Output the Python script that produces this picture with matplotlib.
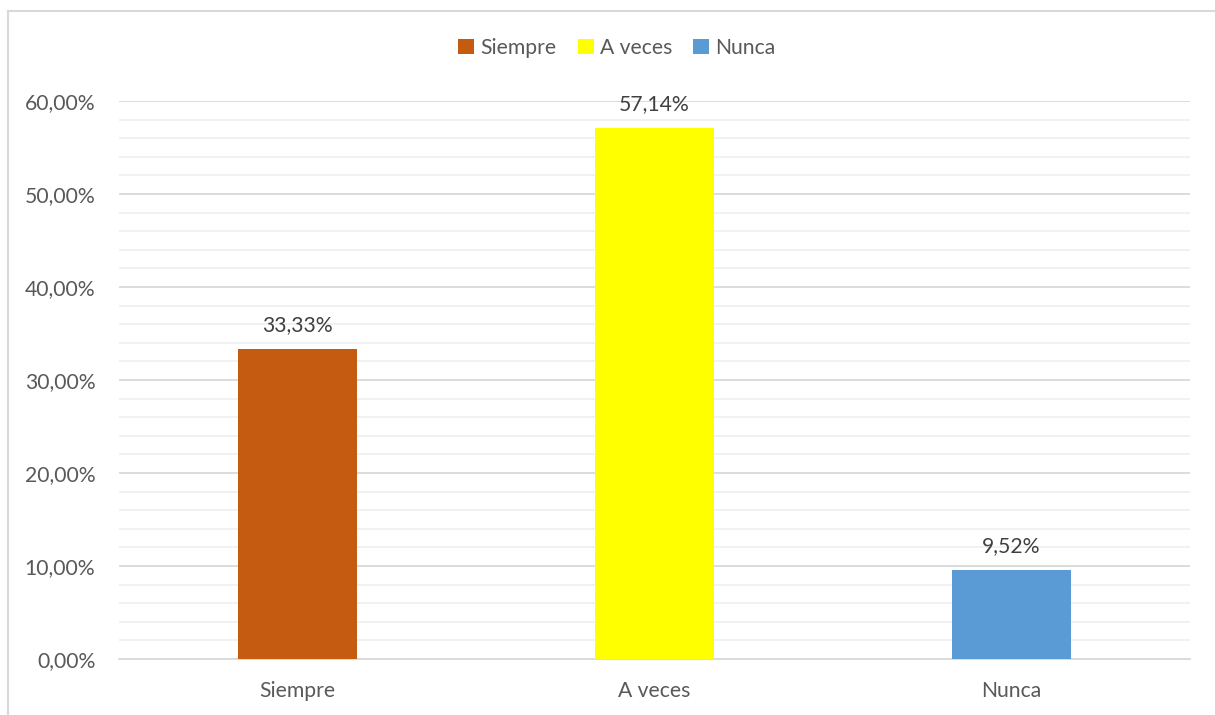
import matplotlib.pyplot as plt
from matplotlib.lines import Line2D
from matplotlib.ticker import MultipleLocator, FuncFormatter

categorias = ["Siempre", "A veces", "Nunca"]
valores = [0.3333, 0.5714, 0.0952]
etiquetas = ["33,33%", "57,14%", "9,52%"]
colores = ["#C55A11", "#FFFF00", "#5B9BD5"]

plt.rcParams['font.family'] = ['Lato', 'DejaVu Sans']
fs = 15.2

fig = plt.figure(figsize=(12.15, 7.15), dpi=100)
ax = fig.add_axes([119 / 1215, 1 - 659 / 715, (1190 - 119) / 1215, (659 - 101) / 715])

x = list(range(len(categorias)))
barras = ax.bar(x, valores, width=0.336, color=colores, zorder=3)
for b, c in zip(barras, categorias):
    b.set_label(c)

for xi, v, t in zip(x, valores, etiquetas):
    ax.annotate(t, (xi, v), xytext=(0, 10), textcoords="offset points",
                ha="center", va="bottom", fontsize=fs, color="#404040")

ax.set_xlim(-0.5, 2.5)
ax.set_ylim(0, 0.6)
ax.set_xticks(x)
ax.set_xticklabels(categorias)
ax.yaxis.set_major_locator(MultipleLocator(0.1))
ax.yaxis.set_minor_locator(MultipleLocator(0.02))
ax.yaxis.set_major_formatter(FuncFormatter(lambda v, p: f"{v * 100:.2f}%".replace(".", ",")))
ax.grid(axis="y", which="major", color="#D9D9D9", linewidth=1.3, zorder=0)
ax.grid(axis="y", which="minor", color="#F0F0F0", linewidth=1.3, zorder=0)
ax.tick_params(axis="both", which="both", length=0, labelsize=fs, colors="#595959")
ax.tick_params(axis="y", pad=17)
ax.tick_params(axis="x", pad=16)
for s in ["top", "right", "left"]:
    ax.spines[s].set_visible(False)
ax.spines["bottom"].set_color("#D9D9D9")
ax.spines["bottom"].set_linewidth(1.3)

fig.legend(handles=list(barras), loc="center", bbox_to_anchor=(617 / 1215, 1 - 48 / 715),
           ncol=3, frameon=False, fontsize=fs, handlelength=0.75, handleheight=0.75,
           handletextpad=0.3, columnspacing=1.0, labelcolor="#595959")

# borde del grafico
fig.add_artist(Line2D([7.5 / 1215, 1], [1 - 10.5 / 715, 1 - 10.5 / 715], color="#D9D9D9", linewidth=1.5))
fig.add_artist(Line2D([7.5 / 1215, 7.5 / 1215], [0, 1 - 10.5 / 715], color="#D9D9D9", linewidth=1.5))

fig.savefig("out.png", dpi=100)
